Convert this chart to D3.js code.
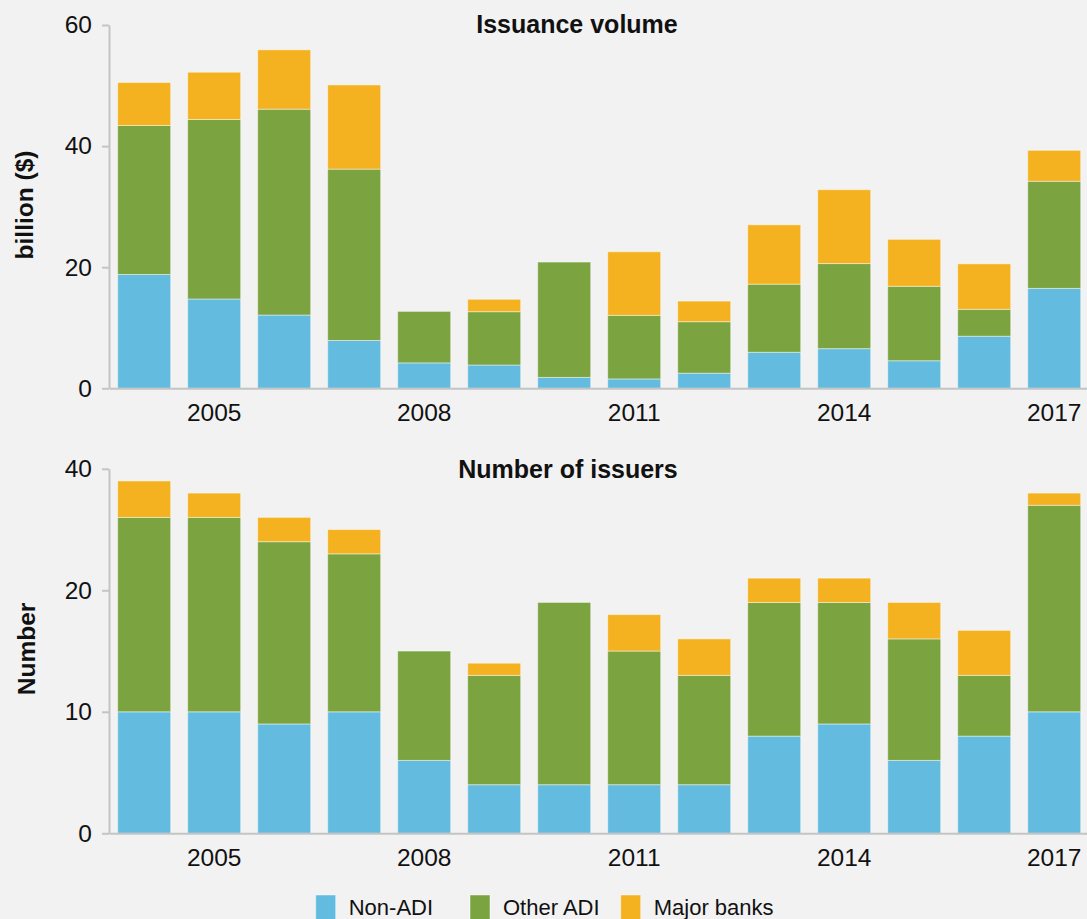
<!DOCTYPE html>
<html>
<head>
<meta charset="utf-8">
<script src="https://cdn.jsdelivr.net/npm/d3@7"></script>
<style>
  html, body { margin: 0; padding: 0; background: #f2f2f2; }
  svg { display: block; font-family: "Liberation Sans", Arial, sans-serif; }
</style>
</head>
<body>
<script>
// Data
const years = [2004, 2005, 2006, 2007, 2008, 2009, 2010, 2011, 2012, 2013, 2014, 2015, 2016, 2017];
const seriesNames = ["Non-ADI", "Other ADI", "Major banks"];
const seriesColors = ["#63bce0", "#7ba33f", "#f4b120"];

// Issuance volume, $ billion
const volumeNonADI = [18.8, 14.75, 12.1, 7.9, 4.2, 3.85, 1.8, 1.55, 2.5, 5.95, 6.55, 4.55, 8.6, 16.5];
const volumeOtherADI = [24.6, 29.65, 34.0, 28.3, 8.5, 8.8, 19.05, 10.5, 8.5, 11.25, 14.05, 12.3, 4.45, 17.7];
const volumeMajorBanks = [7.1, 7.8, 9.8, 13.9, 0, 2.05, 0, 10.5, 3.4, 9.8, 12.2, 7.75, 7.5, 5.1];

// Number of issuers
const issuersNonADI = [10, 10, 9, 10, 6, 4, 4, 4, 4, 8, 9, 6, 8, 10];
const issuersOtherADI = [16, 16, 15, 13, 9, 9, 15, 11, 9, 11, 10, 10, 5, 17];
const issuersMajorBanks = [3, 2, 2, 2, 0, 1, 0, 3, 3, 2, 2, 3, 3.7, 1];

// Tick labels
const xTickYears = [2005, 2008, 2011, 2014, 2017];
const volumeTicks = [0, 20, 40, 60];
const volumeTickLabels = ["0", "20", "40", "60"];
const issuerTicks = [0, 10, 20, 30];
const issuerTickLabels = ["0", "10", "20", "40"];

const width = 1087;
const height = 919;

const svg = d3.select("body").append("svg")
    .attr("width", width)
    .attr("height", height);

const x = d3.scaleBand()
    .domain(years)
    .range([109, 1089.4])
    .paddingInner(0.243)
    .paddingOuter(0.124);

const color = d3.scaleOrdinal(seriesNames, seriesColors);

function drawPanel(opts) {
    const rows = years.map((yr, i) => ({
        year: yr,
        "Non-ADI": opts.values[0][i],
        "Other ADI": opts.values[1][i],
        "Major banks": opts.values[2][i]
    }));
    const stacked = d3.stack().keys(seriesNames)(rows);

    const y = d3.scaleLinear().domain(opts.domain).range(opts.range);

    const g = svg.append("g");

    // bars
    g.append("g")
        .selectAll("g")
        .data(stacked)
        .join("g")
        .attr("fill", d => color(d.key))
        .selectAll("rect")
        .data(d => d.filter(p => p[1] - p[0] > 0))
        .join("rect")
        .attr("x", d => x(d.data.year))
        .attr("width", x.bandwidth())
        .attr("y", d => y(d[1]))
        .attr("height", d => y(d[0]) - y(d[1]))
        .attr("stroke", "rgba(255,255,255,0.45)")
        .attr("stroke-width", 1);

    // y axis
    const yAxis = g.append("g")
        .attr("transform", `translate(109,0)`)
        .call(d3.axisLeft(y)
            .tickValues(opts.ticks)
            .tickFormat((d, i) => opts.tickLabels[i])
            .tickSize(7)
            .tickSizeOuter(0)
            .tickPadding(10));
    yAxis.selectAll("path, line").attr("stroke", "#c4c4c4").attr("stroke-width", 2);
    yAxis.selectAll("text").attr("font-size", 24.5).attr("fill", "#111").attr("font-family", null);

    // x axis
    const xAxis = g.append("g")
        .attr("transform", `translate(0,${opts.range[0]})`)
        .call(d3.axisBottom(x)
            .tickValues(xTickYears)
            .tickSize(0)
            .tickSizeOuter(0)
            .tickPadding(15));
    xAxis.select(".domain").attr("stroke", "#c4c4c4").attr("stroke-width", 2);
    xAxis.selectAll("text").attr("font-size", 24.5).attr("fill", "#111").attr("font-family", null);

    // panel title
    g.append("text")
        .attr("x", opts.titleX)
        .attr("y", opts.titleY)
        .attr("text-anchor", "middle")
        .attr("font-size", 25)
        .attr("font-weight", "bold")
        .attr("fill", "#111")
        .text(opts.title);

    // y axis label
    g.append("text")
        .attr("transform", `translate(${opts.labelX},${opts.labelY}) rotate(-90)`)
        .attr("text-anchor", "middle")
        .attr("font-size", 24.5)
        .attr("font-weight", "bold")
        .attr("fill", "#111")
        .text(opts.yLabel);
}

drawPanel({
    values: [volumeNonADI, volumeOtherADI, volumeMajorBanks],
    domain: [0, 60],
    range: [388.3, 25],
    ticks: volumeTicks,
    tickLabels: volumeTickLabels,
    title: "Issuance volume",
    titleX: 577,
    titleY: 33,
    yLabel: "billion ($)",
    labelX: 33,
    labelY: 205
});

drawPanel({
    values: [issuersNonADI, issuersOtherADI, issuersMajorBanks],
    domain: [0, 30],
    range: [833.3, 833.3 - 30 * 12.15],
    ticks: issuerTicks,
    tickLabels: issuerTickLabels,
    title: "Number of issuers",
    titleX: 568,
    titleY: 478,
    yLabel: "Number",
    labelX: 35,
    labelY: 649
});

// legend
const legendX = [315.7, 470, 620.7];
const legend = svg.append("g")
    .selectAll("g")
    .data(seriesNames)
    .join("g")
    .attr("transform", (d, i) => `translate(${legendX[i]},895)`);

legend.append("rect")
    .attr("width", 20)
    .attr("height", 26)
    .attr("fill", d => color(d))
    .attr("stroke", "rgba(255,255,255,0.45)");

legend.append("text")
    .attr("x", 33)
    .attr("y", 20)
    .attr("font-size", 22)
    .attr("fill", "#111")
    .text(d => d);
</script>
</body>
</html>
